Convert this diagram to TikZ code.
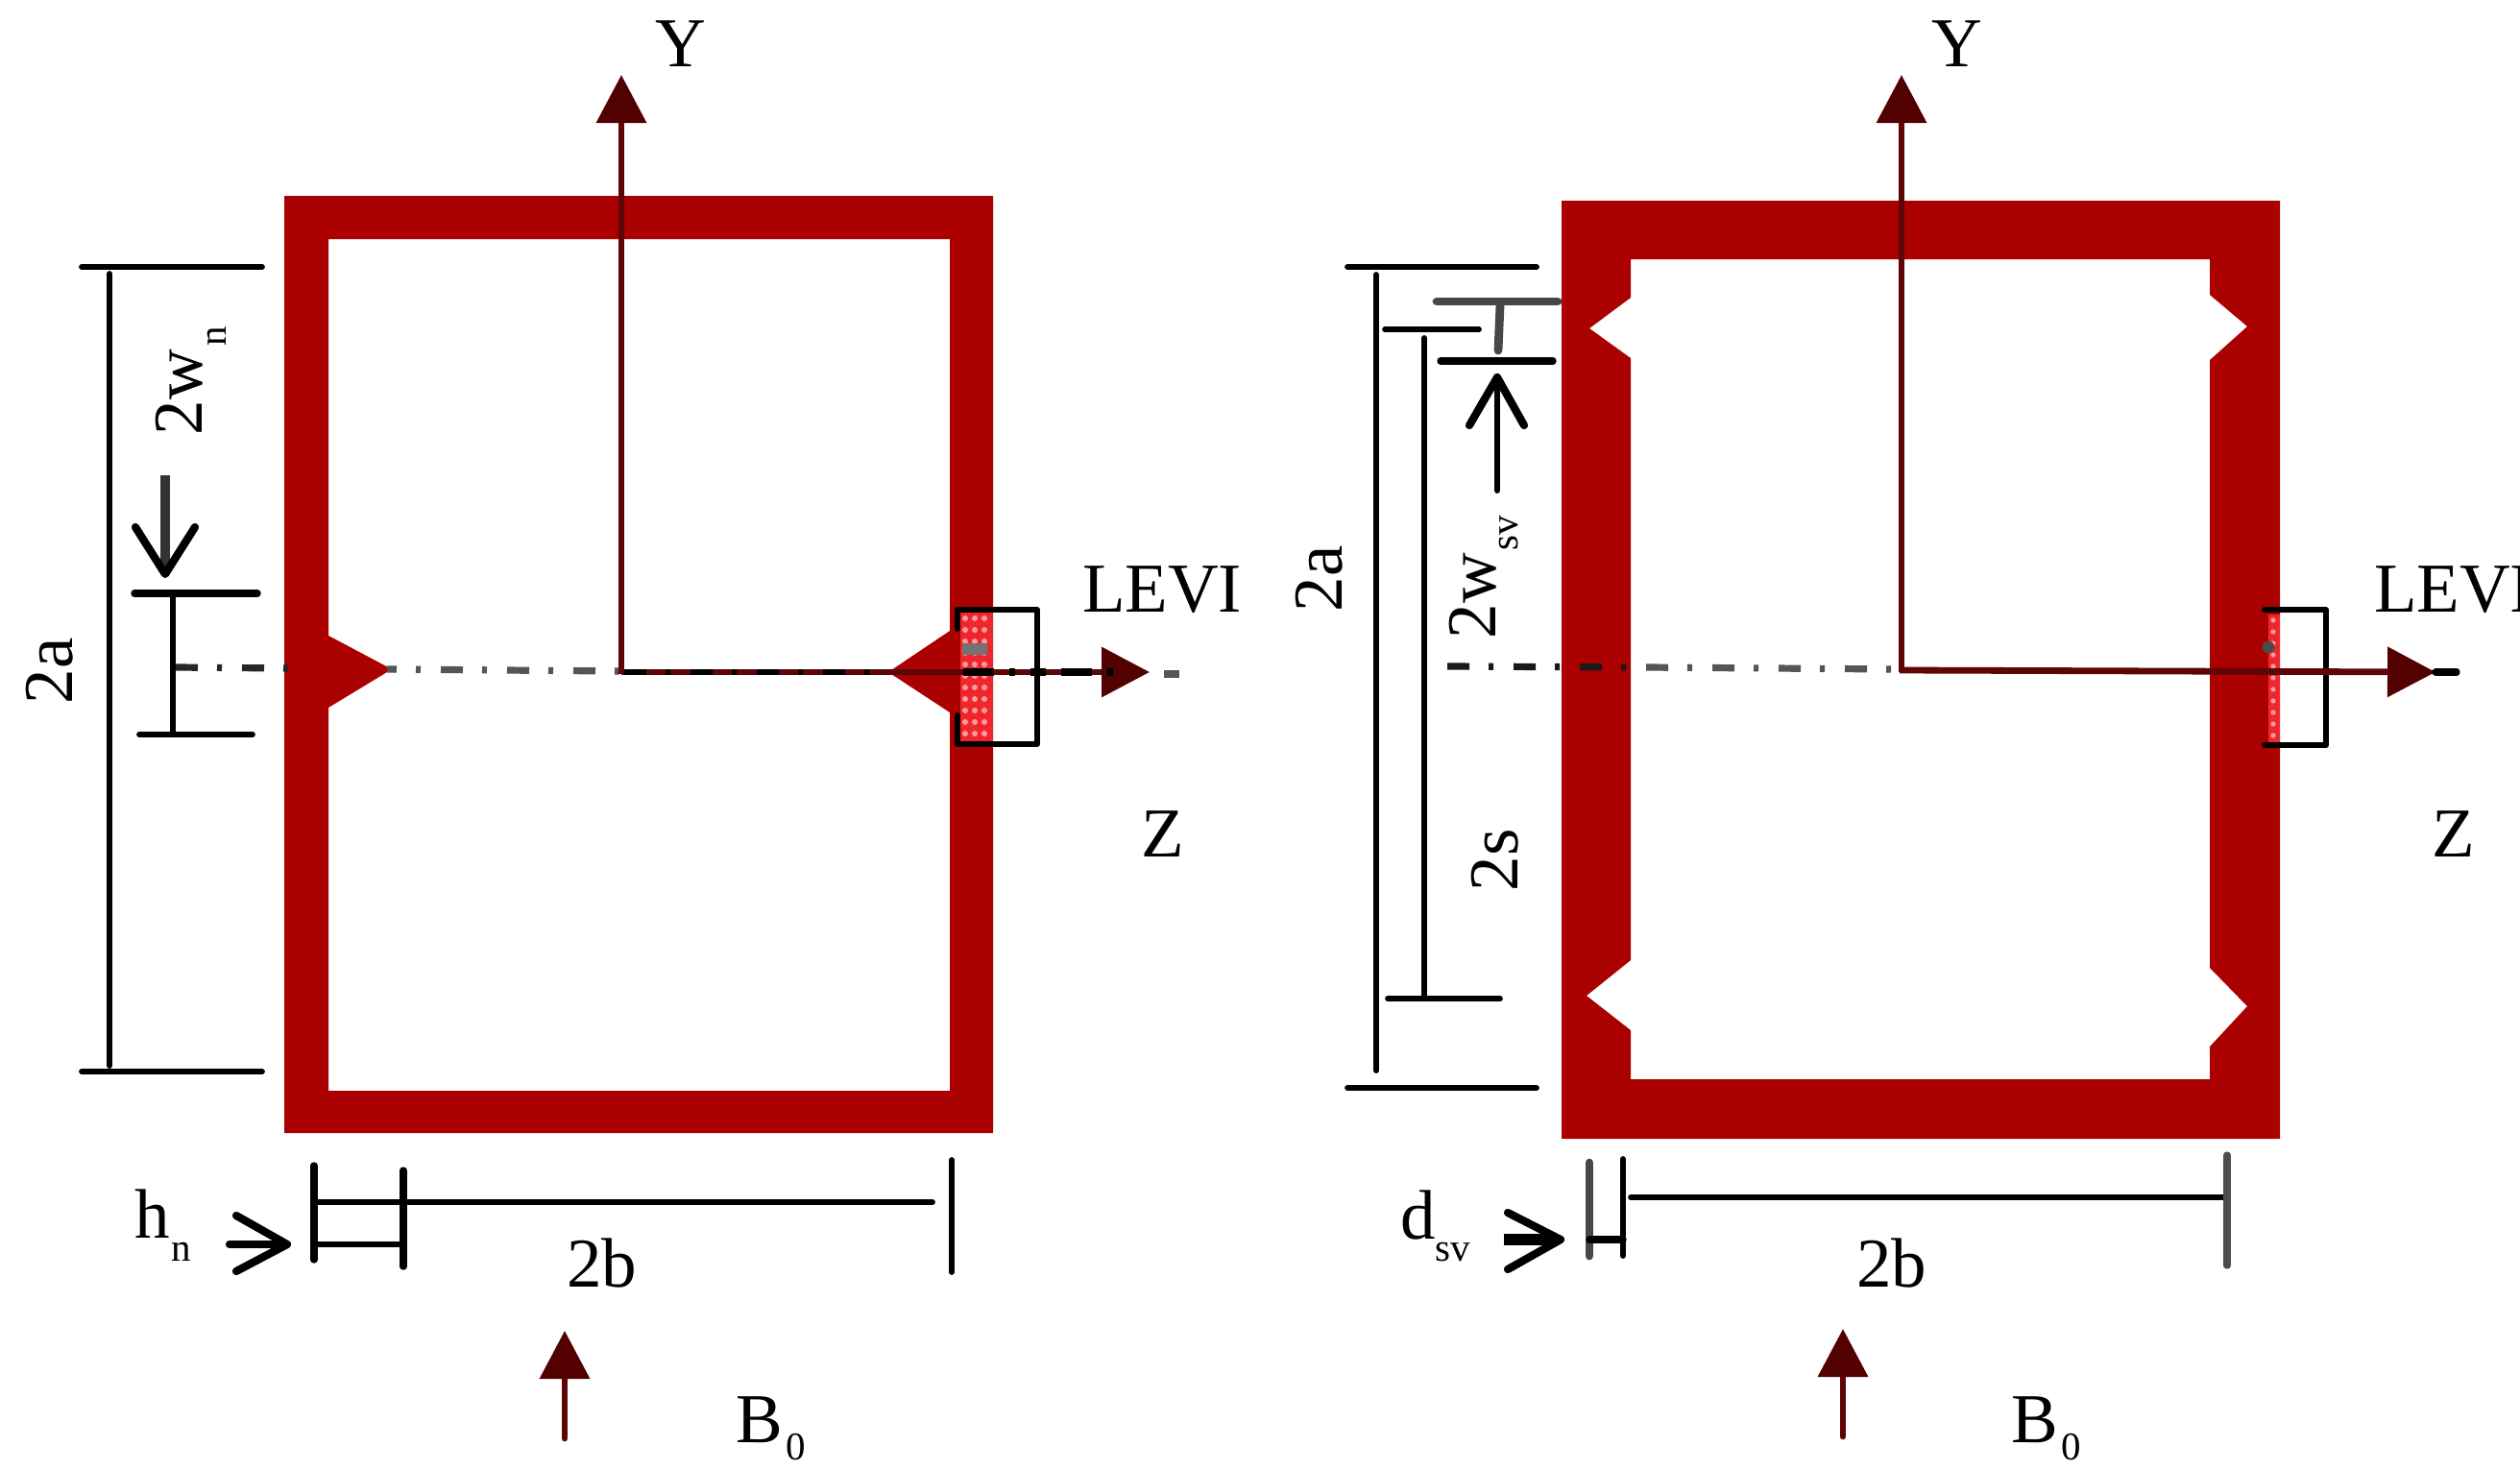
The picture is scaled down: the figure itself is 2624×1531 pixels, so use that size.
\documentclass[tikz,border=0pt]{standalone}
\usepackage{fontspec}
\setmainfont{Liberation Serif}
\usetikzlibrary{arrows.meta}
\definecolor{wall}{HTML}{AA0000}
\definecolor{hotwall}{HTML}{F0262C}
\definecolor{axisred}{HTML}{5E0505}
\definecolor{axishead}{HTML}{520000}
\definecolor{centre}{HTML}{555555}
\newcommand{\bigf}{\fontsize{36.5}{40}\selectfont}
\newcommand{\smf}{\fontsize{20.5}{22}\selectfont}
\newcommand{\lowsub}[3]{\kern#2pt\raisebox{-#3pt}{\smf #1}}
\tikzset{
  label text/.style={inner sep=0pt,outer sep=0pt,anchor=base west,font=\bigf,text=black},
  up text/.style={label text,rotate=90},
  frame wall/.style={fill=wall,even odd rule,draw=none},
  dim/.style={draw=black,line width=2.9pt,line cap=round},
  dim heavy/.style={draw=black,line width=3.7pt,line cap=round},
  dim grey/.style={draw=black!72,line width=4.4pt,line cap=round},
  pointer/.style={draw=black,line width=4.1pt,line cap=round,line join=round},
  centre line/.style={draw=centre,line width=3.6pt,dash pattern=on 11.5pt off 10pt on 2.5pt off 10.5pt},
  centre dark/.style={centre line,draw=black!90},
  axis arrow/.style={draw=axisred,line width=3.4pt,-{Triangle[length=25pt,width=25.5pt,color=axishead]}},
  field arrow/.style={draw=axisred,line width=3.4pt,line cap=round,-{Triangle[length=25pt,width=25.5pt,color=axishead]}},
  load box/.style={draw=black,line width=3pt,line join=round,line cap=round},
  hot/.style={fill=hotwall,draw=none},
  speck/.style={fill=white,fill opacity=.55,draw=none},
}
\begin{document}
\begin{tikzpicture}[x=0.5pt,y=-0.5pt]
\useasboundingbox (0,0) rectangle (2624,1531);
\clip (0,0) rectangle (2624,1531);
% ---------- LEFT PANEL ----------
% hollow section with one notch
\path[frame wall] (296,204) rectangle (1034,1180)
  (342,249) -- (989,249) -- (989,657) -- (925,700) -- (989,742) -- (989,1136)
  -- (342,1136) -- (342,737) -- (408,697) -- (342,662) -- cycle;
\draw[centre line,draw=black!85] (183,695) -- (302,696);
\draw[centre line,dash phase=6.5pt] (403,697) -- (646,699);
% heated zone
\fill[hot] (1000,638) rectangle (1034,773);
\foreach \yy in {644,656,...,770}{
  \foreach \xx in {1005,1015,1025}{
    \fill[speck] (\xx,\yy) circle (1.5pt);
  }
}
\fill[black!55] (1002,670) rectangle (1028,682);
% load box
\draw[load box] (997,655) -- (997,635) -- (1080,635) -- (1080,775) -- (997,775) -- (997,745);
% axes
\draw[axis arrow] (647,702) -- (647,78);
\draw[axis arrow] (647,700) -- (1197,700);
\draw[draw=black,line width=3pt,dash pattern=on 11.5pt off 10pt on 2.5pt off 10.5pt] (650,700) -- (925,700);
\draw[draw=black,line width=3.6pt,dash pattern=on 16pt off 8pt on 3pt off 8pt on 8pt off 8pt] (1003,700) -- (1170,700);
\draw[draw=centre,line width=3.6pt] (1212,702) -- (1228,702);
% 2a dimension
\draw[dim] (85,278) -- (273,278);
\draw[dim] (114,285) -- (114,1110);
\draw[dim] (85,1116) -- (273,1116);
% 2w_n dimension
\draw[dim heavy] (140,618) -- (268,618);
\draw[dim] (180,618) -- (180,765);
\draw[dim] (145,765) -- (263,765);
\draw[draw=black!80,line width=5.4pt] (172,495) -- (172,590);
\draw[pointer] (141,549) -- (172,598) -- (203,549);
% 2b dimension
\draw[dim heavy] (327,1214) -- (327,1312);
\draw[dim heavy] (420,1219) -- (420,1319);
\draw[dim] (327,1252) -- (971,1252);
\draw[dim] (327,1296) -- (420,1296);
\draw[dim] (991,1208) -- (991,1325);
\draw[pointer] (239,1296) -- (298,1296);
\draw[pointer] (246,1266) -- (299,1296) -- (246,1324);
% field arrow
\draw[field arrow] (588,1498) -- (588,1386);
% labels
\node[label text] (yl) at (682,69) {Y};
\node[label text] (levil) at (1127,637) {LEVI};
\node[label text] (zl) at (1188,892) {Z};
\node[up text] (al) at (75,733) {2a};
\node[up text] (wnl) at (210,453) {2w\lowsub{n}{1.5}{12.5}};
\node[label text] (hnl) at (140,1289) {h\lowsub{n}{1}{12}};
\node[label text] (bl) at (590,1340) {2b};
\node[label text] (b0l) at (766,1502) {B\lowsub{0}{2}{9}};
% ---------- RIGHT PANEL ----------
\path[frame wall] (1626,209) rectangle (2374,1186)
  (1698,270) -- (2301,270) -- (2301,307) -- (2340,340) -- (2301,375) -- (2301,1008)
  -- (2340,1048) -- (2301,1090) -- (2301,1124) -- (1698,1124) -- (1698,1073)
  -- (1652,1037) -- (1698,1000) -- (1698,373) -- (1655,342) -- (1698,310) -- cycle;
\draw[centre dark] (1507,694) -- (1714,695);
\draw[centre line] (1714,695) -- (1978,697);
% heated zone
\fill[hot] (2362,640) rectangle (2374,773);
\foreach \yy in {646,658,...,770}{
  \fill[speck] (2367,\yy) circle (1.3pt);
}
\fill[black!70] (2362,674) circle (3.2pt);
% load box
\draw[load box] (2358,635) -- (2422,635) -- (2422,776) -- (2358,776);
% axes
\draw[axis arrow] (1980,700) -- (1980,78);
\draw[axis arrow] (1978,698) -- (2536,700);
\draw[draw=black,line width=3.6pt,line cap=round] (2536,700) -- (2558,700);
% 2a dimension
\draw[dim] (1403,278) -- (1600,278);
\draw[dim] (1433,286) -- (1433,1115);
\draw[dim] (1403,1133) -- (1600,1133);
% 2s dimension
\draw[dim] (1442,343) -- (1540,343);
\draw[dim] (1483,352) -- (1483,1040);
\draw[dim] (1445,1040) -- (1562,1040);
% 2w_sv dimension
\draw[dim grey] (1496,314) -- (1622,314);
\draw[dim heavy] (1500,376) -- (1617,376);
\draw[dim grey] (1562,318) -- (1560,365);
\draw[dim] (1559,392) -- (1559,511);
\draw[pointer] (1530,443) -- (1559,393) -- (1587,443);
% 2b dimension
\draw[dim grey] (1655,1211) -- (1655,1308);
\draw[dim] (1690,1207) -- (1690,1308);
\draw[dim] (1698,1247) -- (2318,1247);
\draw[dim heavy] (1655,1291) -- (1690,1291);
\draw[draw=black!70,line width=3.6pt,line cap=round] (2319,1203) -- (2319,1318);
\draw[draw=black,line width=5.6pt] (1566,1291) -- (1618,1291);
\draw[pointer] (1570,1263) -- (1625,1291) -- (1570,1322);
% field arrow
\draw[field arrow] (1919,1496) -- (1919,1384);
% labels
\node[label text] (yr) at (2011,69) {Y};
\node[label text] (levir) at (2472,637) {LEVI};
\node[label text] (zr) at (2532,892) {Z};
\node[up text] (ar) at (1397,637) {2a};
\node[up text] (wsvr) at (1557,665) {2w\lowsub{sv}{1}{11.5}};
\node[up text] (sr) at (1580,928) {2s};
\node[label text] (dr) at (1458,1290) {d\lowsub{sv}{0}{11.5}};
\node[label text] (br) at (1933,1340) {2b};
\node[label text] (b0r) at (2094,1502) {B\lowsub{0}{2}{9}};
\end{tikzpicture}
\end{document}
